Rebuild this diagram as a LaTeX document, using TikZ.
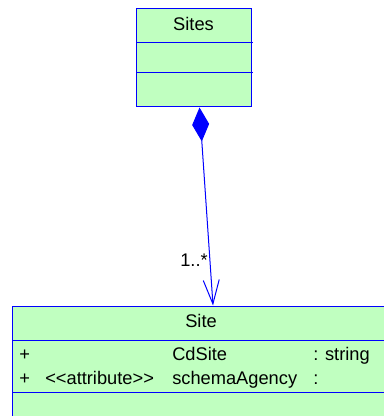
\documentclass[tikz,border=0pt]{standalone}
\usepackage{fontspec}
\setmainfont{Liberation Sans}
\usetikzlibrary{arrows.meta}
\definecolor{umlfill}{RGB}{192,255,192}
\definecolor{umlblue}{RGB}{0,0,255}
\begin{document}
\begin{tikzpicture}[x=0.75pt,y=-0.75pt,
  classbox/.style={draw=umlblue,fill=umlfill,line width=0.75pt,rectangle,inner sep=0pt},
  divider/.style={draw=umlblue,line width=0.75pt},
  txt/.style={inner sep=0pt,anchor=base west,font=\fontsize{13.7}{16}\selectfont},
  ctxt/.style={inner sep=0pt,anchor=base,font=\fontsize{13.7}{16}\selectfont},
  assoc/.style={draw=umlblue,line width=0.75pt}]
\useasboundingbox (0,0) rectangle (383,416);
% Sites class
\node[classbox,minimum width=115*0.75pt,minimum height=98*0.75pt] (sites) at (193.5,58) {};
\draw[divider] (136,43) -- (253,43);
\draw[divider] (136,73) -- (253,73);
\node[ctxt] (sitesname) at (193.5,30.7) {Sites};
% Site class
\node[classbox,minimum width=383*0.75pt,minimum height=120*0.75pt] (site) at (203.5,366) {};
\draw[divider] (12,340) -- (395,340);
\draw[divider] (12,392) -- (395,392);
\node[ctxt] (sitename) at (201,327.3) {Site};
\node[txt] (p1) at (19,360.7) {+};
\node[txt] (a1) at (172,360.7) {CdSite};
\node[txt] (t1) at (313,360.7) {: string};
\node[txt] (p2) at (19,384.3) {+};
\node[txt] (s2) at (45,384.3) {<{}<attribute>{}>};
\node[txt] (a2) at (172,384.3) {schemaAgency};
\node[txt] (t2) at (313,384.3) {:};
% association
\coordinate (agg) at ([xshift=6*0.75pt]sites.south);
\coordinate (nav) at ([xshift=9.5*0.75pt]site.north);
\draw[assoc,{Diamond[length=34*0.75pt,width=17*0.75pt,fill=umlblue]}-{Straight Barb[length=24*0.75pt,width=16*0.75pt]}] (agg) -- (nav);
\node[inner sep=0pt,anchor=base east,font=\fontsize{13.7}{16}\selectfont] (mult) at (208,266.7) {1..*};
\end{tikzpicture}
\end{document}
